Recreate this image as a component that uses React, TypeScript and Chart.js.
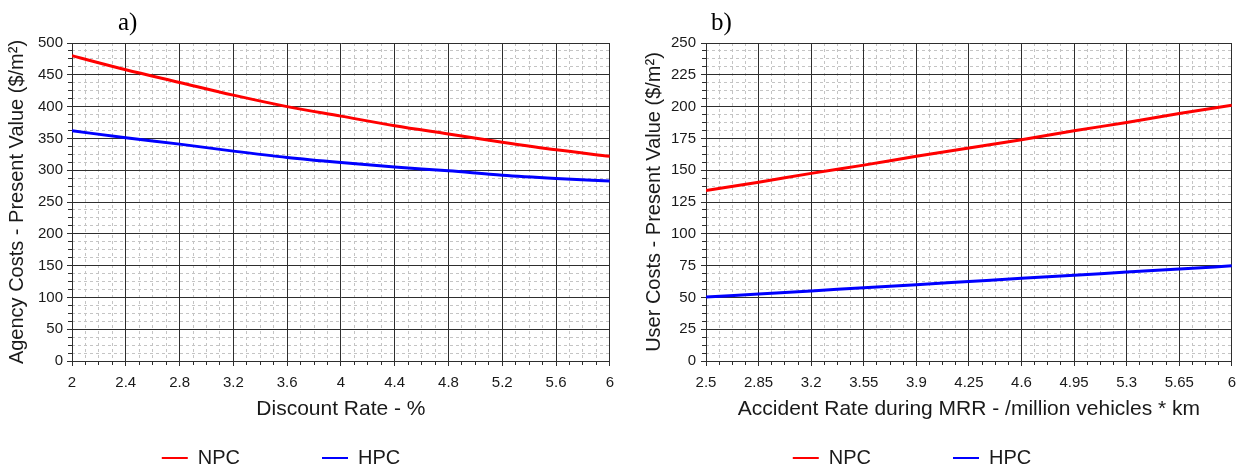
import React, { useEffect, useRef } from "react";
import { Chart, registerables } from "chart.js";

Chart.register(...registerables);

// ---- Data ----
const discountRate = [2, 2.4, 2.8, 3.2, 3.6, 4, 4.4, 4.8, 5.2, 5.6, 6];
const agencyNPC = [480, 458, 438, 418, 400, 385, 370, 357, 344, 332, 322];
const agencyHPC = [362, 351, 341, 330, 320, 312, 305, 299, 292, 287, 283];
const agencyYTicks = [0, 50, 100, 150, 200, 250, 300, 350, 400, 450, 500];

const accidentRate = [2.5, 2.85, 3.2, 3.55, 3.9, 4.25, 4.6, 4.95, 5.3, 5.65, 6];
const userNPC = [134, 140.5, 147.5, 154, 161, 167.5, 174, 181, 187.5, 194.5, 201];
const userHPC = [50.3, 52.7, 55.1, 57.6, 60, 62.5, 65, 67.4, 69.9, 72.3, 74.8];
const userYTicks = [0, 25, 50, 75, 100, 125, 150, 175, 200, 225, 250];

const seriesNames = ["NPC", "HPC"];
const seriesColors = ["#ff0000", "#0000ff"];

const FONT = '"Liberation Sans", Arial, Helvetica, sans-serif';
const MAJOR = "#2e2e2e";
const MINOR = "#c4c4c4";
const TEXT = "#1a1a1a";

function subdivide(ticks: number[], parts: number): number[] {
  const out: number[] = [];
  for (let i = 0; i < ticks.length - 1; i++) {
    const a = ticks[i];
    const b = ticks[i + 1];
    for (let k = 1; k < parts; k++) out.push(a + ((b - a) * k) / parts);
  }
  return out;
}

interface Params {
  xs: number[];
  npc: number[];
  hpc: number[];
  xTicks: number[];
  yTicks: number[];
  xTitle: string;
  yTitle: string;
  yAxisWidth: number;
  yTitlePad: number;
  padRight: number;
  yTickPad: number;
}

function makeConfig(p: Params): any {
  const minorX = subdivide(p.xTicks, 4);
  const minorY = subdivide(p.yTicks, 4);
  const xMin = p.xTicks[0];
  const xMax = p.xTicks[p.xTicks.length - 1];
  const yMin = p.yTicks[0];
  const yMax = p.yTicks[p.yTicks.length - 1];
  const series = [p.npc, p.hpc];

  return {
    type: "line",
    data: {
      datasets: series.map((vals, s) => ({
        label: seriesNames[s],
        data: p.xs.map((x, i) => ({ x, y: vals[i] })),
        borderColor: seriesColors[s],
        backgroundColor: seriesColors[s],
        borderWidth: 3,
        pointRadius: 0,
        cubicInterpolationMode: "monotone",
        fill: false,
      })),
    },
    options: {
      responsive: false,
      animation: false,
      events: [],
      layout: { padding: { top: 43, right: p.padRight, bottom: 0, left: 0 } },
      plugins: {
        tooltip: { enabled: false },
        legend: {
          position: "bottom",
          maxHeight: 81,
          title: {
            display: true,
            text: "",
            font: { family: FONT, size: 10 },
            padding: { top: -37, bottom: 0 },
          },
          labels: {
            usePointStyle: true,
            pointStyle: "line",
            pointStyleWidth: 26,
            padding: 82,
            color: TEXT,
            font: { family: FONT, size: 20 },
            generateLabels: (chart: any) =>
              Chart.defaults.plugins.legend.labels
                .generateLabels(chart)
                .map((l: any) => ({ ...l, lineWidth: 2 })),
          },
        },
      },
      scales: {
        x: {
          type: "linear",
          position: "bottom",
          weight: 1,
          min: xMin,
          max: xMax,
          afterBuildTicks: (s: any) => {
            s.ticks = p.xTicks.map((v) => ({ value: v }));
          },
          afterFit: (s: any) => {
            s.height = 30;
          },
          ticks: {
            autoSkip: false,
            maxRotation: 0,
            minRotation: 0,
            padding: 8,
            color: TEXT,
            font: { family: FONT, size: 15 },
            callback: (v: any) => String(v),
          },
          grid: { color: MAJOR, lineWidth: 1, tickLength: 5, tickColor: MAJOR, z: 0 },
          border: { display: true, color: MAJOR },
          title: {
            display: true,
            text: p.xTitle,
            color: TEXT,
            font: { family: FONT, size: 21 },
            padding: { top: 0, bottom: -31 },
          },
        },
        x2: {
          type: "linear",
          position: "bottom",
          weight: 0,
          min: xMin,
          max: xMax,
          afterBuildTicks: (s: any) => {
            s.ticks = minorX.map((v) => ({ value: v }));
          },
          afterFit: (s: any) => {
            s.height = 0;
          },
          ticks: { display: false },
          grid: { color: MINOR, lineWidth: 1, tickLength: 4, tickColor: MAJOR, z: -1 },
          border: { display: false, dash: [3, 3] },
        },
        y: {
          type: "linear",
          position: "left",
          weight: 1,
          min: yMin,
          max: yMax,
          afterBuildTicks: (s: any) => {
            s.ticks = p.yTicks.map((v) => ({ value: v }));
          },
          afterFit: (s: any) => {
            s.width = p.yAxisWidth;
          },
          ticks: {
            autoSkip: false,
            padding: p.yTickPad,
            color: TEXT,
            font: { family: FONT, size: 15 },
            callback: (v: any) => String(v),
          },
          grid: { color: MAJOR, lineWidth: 1, tickLength: 5, tickColor: MAJOR, z: 0 },
          border: { display: true, color: MAJOR },
          title: {
            display: true,
            text: p.yTitle,
            color: TEXT,
            font: { family: FONT, size: 20 },
            padding: { top: p.yTitlePad, bottom: 0 },
          },
        },
        y2: {
          type: "linear",
          position: "left",
          weight: 0,
          min: yMin,
          max: yMax,
          afterBuildTicks: (s: any) => {
            s.ticks = minorY.map((v) => ({ value: v }));
          },
          afterFit: (s: any) => {
            s.width = 0;
          },
          ticks: { display: false },
          grid: { color: MINOR, lineWidth: 1, tickLength: 4, tickColor: MAJOR, z: -1 },
          border: { display: false, dash: [3, 3] },
        },
      },
    },
  };
}

function ChartCanvas(props: { params: Params; left: number; width: number }) {
  const ref = useRef<HTMLCanvasElement | null>(null);
  useEffect(() => {
    if (!ref.current) return;
    const chart = new Chart(ref.current, makeConfig(props.params));
    return () => chart.destroy();
  }, []);
  return (
    <canvas
      ref={ref}
      width={props.width}
      height={472}
      style={{ position: "absolute", left: props.left, top: 0, width: props.width, height: 472 }}
    />
  );
}

export default function App() {
  const leftParams: Params = {
    xs: discountRate,
    npc: agencyNPC,
    hpc: agencyHPC,
    xTicks: discountRate,
    yTicks: agencyYTicks,
    xTitle: "Discount Rate - %",
    yTitle: "Agency Costs - Present Value ($/m²)",
    yAxisWidth: 123,
    yTitlePad: 56,
    padRight: 9,
    yTickPad: 4,
  };
  const rightParams: Params = {
    xs: accidentRate,
    npc: userNPC,
    hpc: userHPC,
    xTicks: accidentRate,
    yTicks: userYTicks,
    xTitle: "Accident Rate during MRR - /million vehicles * km",
    yTitle: "User Costs - Present Value ($/m²)",
    yAxisWidth: 119,
    yTitlePad: 55,
    padRight: 7,
    yTickPad: 5,
  };
  const labelStyle: React.CSSProperties = {
    position: "absolute",
    top: 9,
    fontFamily: '"Liberation Serif", "Times New Roman", serif',
    fontSize: 25,
    lineHeight: "25px",
    color: "#000",
  };
  return (
    <div
      style={{
        position: "fixed",
        left: 0,
        top: 0,
        width: 1244,
        height: 472,
        overflow: "hidden",
        background: "#ffffff",
      }}
    >
      <ChartCanvas params={leftParams} left={-51} width={673} />
      <ChartCanvas params={rightParams} left={587} width={657} />
      <div style={{ ...labelStyle, left: 118 }}>a)</div>
      <div style={{ ...labelStyle, left: 711 }}>b)</div>
    </div>
  );
}
